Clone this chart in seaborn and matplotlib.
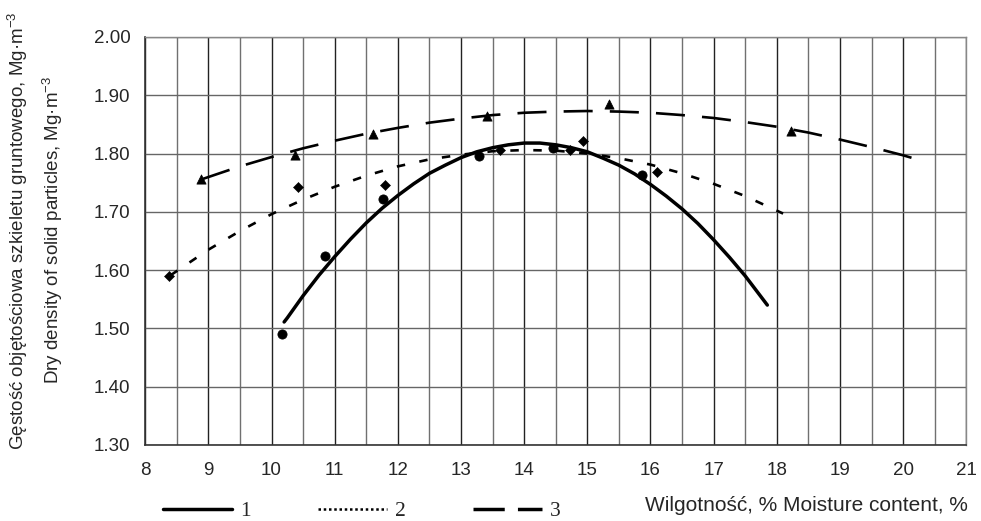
import pandas as pd
import seaborn as sns
import matplotlib.pyplot as plt
from matplotlib.lines import Line2D
from matplotlib.ticker import MultipleLocator, FormatStrFormatter

sns.set_style("white")
plt.rcParams['font.family'] = ['Liberation Sans', 'DejaVu Sans']
plt.rcParams['mathtext.fontset'] = 'custom'
plt.rcParams['mathtext.rm'] = 'Liberation Sans'

# measured points (moisture %, dry density Mg/m3)
x1 = [10.17, 10.85, 11.76, 13.28, 14.46, 15.86]
y1 = [1.490, 1.625, 1.722, 1.795, 1.810, 1.764]
x2 = [8.38, 10.42, 11.80, 13.62, 14.72, 14.93, 16.10]
y2 = [1.590, 1.742, 1.746, 1.806, 1.806, 1.821, 1.768]
x3 = [8.88, 10.37, 11.60, 13.41, 15.34, 18.22]
y3 = [1.756, 1.798, 1.833, 1.865, 1.885, 1.838]

# trend lines
cx1 = [10.2, 10.25, 10.5, 10.75, 11.0, 11.25, 11.5, 11.75, 12.0, 12.25, 12.5, 12.75, 13.0, 13.25, 13.5, 13.75,
       14.0, 14.25, 14.5, 14.75, 15.0, 15.25, 15.5, 15.75, 16.0, 16.25, 16.5, 16.75, 17.0, 17.25, 17.5, 17.85]
cy1 = [1.511, 1.518, 1.556, 1.591, 1.623, 1.653, 1.681, 1.706, 1.728, 1.748, 1.766, 1.780, 1.793, 1.803, 1.810, 1.815,
       1.818, 1.818, 1.815, 1.810, 1.803, 1.792, 1.780, 1.765, 1.747, 1.727, 1.705, 1.680, 1.652, 1.622, 1.590, 1.540]
cx2 = [8.4, 9.0, 9.5, 10.0, 10.5, 11.0, 11.5, 12.0, 12.5, 13.0, 13.5, 14.0, 14.5, 15.0, 15.5, 16.0, 16.5, 17.0, 17.5, 18.1]
cy2 = [1.591, 1.635, 1.667, 1.696, 1.721, 1.743, 1.762, 1.778, 1.790, 1.798, 1.804, 1.806, 1.805, 1.800, 1.792, 1.781, 1.766, 1.748, 1.727, 1.697]
cx3 = [8.9, 9.5, 10.0, 10.5, 11.0, 11.5, 12.0, 12.5, 13.0, 13.5, 14.0, 14.5, 15.0, 15.5, 16.0, 16.5, 17.0, 17.5, 18.0, 18.5, 19.0, 19.5, 20.0, 20.25]
cy3 = [1.756, 1.778, 1.794, 1.809, 1.822, 1.834, 1.844, 1.853, 1.860, 1.866, 1.870, 1.872, 1.873, 1.872, 1.870, 1.866, 1.861, 1.854, 1.846, 1.836, 1.824, 1.811, 1.797, 1.789]

legend_labels = ['1', '2', '3']

fig = plt.figure(figsize=(9.81, 5.21), dpi=100)
ax = fig.add_axes([0.148, 0.146, 0.837, 0.783])

# grid first
ax.set_xlim(8, 21)
ax.set_ylim(1.30, 2.00)
ax.xaxis.set_major_locator(MultipleLocator(1))
ax.xaxis.set_minor_locator(MultipleLocator(0.5))
ax.yaxis.set_major_locator(MultipleLocator(0.1))
ax.yaxis.set_major_formatter(FormatStrFormatter('%.2f'))
ax.grid(True, which='major', axis='x', color='#222222', lw=1.0, zorder=0)
ax.grid(True, which='minor', axis='x', color='#707070', lw=1.0, zorder=0)
ax.grid(True, which='major', axis='y', color='#666666', lw=1.0, zorder=0)
ax.set_axisbelow(True)

sns.lineplot(x=cx1, y=cy1, color='black', lw=2.5, sort=False, estimator=None, ax=ax,
             solid_joinstyle='round')
sns.lineplot(x=cx2, y=cy2, color='black', lw=1.9, sort=False, estimator=None, ax=ax,
             linestyle=(0, (3.2, 5.5)))
sns.lineplot(x=cx3, y=cy3, color='black', lw=1.9, sort=False, estimator=None, ax=ax,
             linestyle=(0, (11, 6.5)))

sns.scatterplot(x=x1, y=y1, marker='o', s=44, color='black', edgecolor='black', ax=ax, zorder=4)
sns.scatterplot(x=x2, y=y2, marker='D', s=26, color='black', edgecolor='black', ax=ax, zorder=4)
sns.scatterplot(x=x3, y=y3, marker='^', s=44, color='black', edgecolor='black', ax=ax, zorder=4)

for s in ['left', 'bottom']:
    ax.spines[s].set_color('#333333')
    ax.spines[s].set_linewidth(1.2)
for s in ['top', 'right']:
    ax.spines[s].set_color('#888888')
    ax.spines[s].set_linewidth(1.0)

ax.tick_params(axis='y', which='major', direction='out', length=4.5, width=1,
               color='#333333', labelsize=13.5, pad=6)
ax.tick_params(axis='x', which='major', direction='out', length=3.5, width=1,
               color='#333333', labelsize=13.5, pad=9)
ax.tick_params(axis='x', which='minor', length=0)
ax.set_xlabel('')
ax.set_ylabel('')

fig.text(0.018, 0.558, 'Gęstość objętościowa szkieletu gruntowego, Mg·m$^{-3}$',
         rotation=90, ha='center', va='center', fontsize=13.5)
fig.text(0.054, 0.558, 'Dry density of solid particles, Mg·m$^{-3}$',
         rotation=90, ha='center', va='center', fontsize=13.5)
fig.text(0.987, 0.019, 'Wilgotność, % Moisture content, %', ha='right', va='baseline', fontsize=15)

handles = [Line2D([], [], color='black', lw=2.5),
           Line2D([], [], color='black', lw=1.8, linestyle=(0, (1, 1.1))),
           Line2D([], [], color='black', lw=2.5, linestyle=(0, (9, 3.8)))]
leg = fig.legend(handles, legend_labels, loc='center left', bbox_to_anchor=(0.166, 0.019),
                 ncol=3, frameon=False, handlelength=3.2, handletextpad=0.4, borderpad=0,
                 borderaxespad=0, columnspacing=3.1, prop={'family': 'Liberation Serif', 'size': 15.5})

fig.savefig('out.png', dpi=100)
